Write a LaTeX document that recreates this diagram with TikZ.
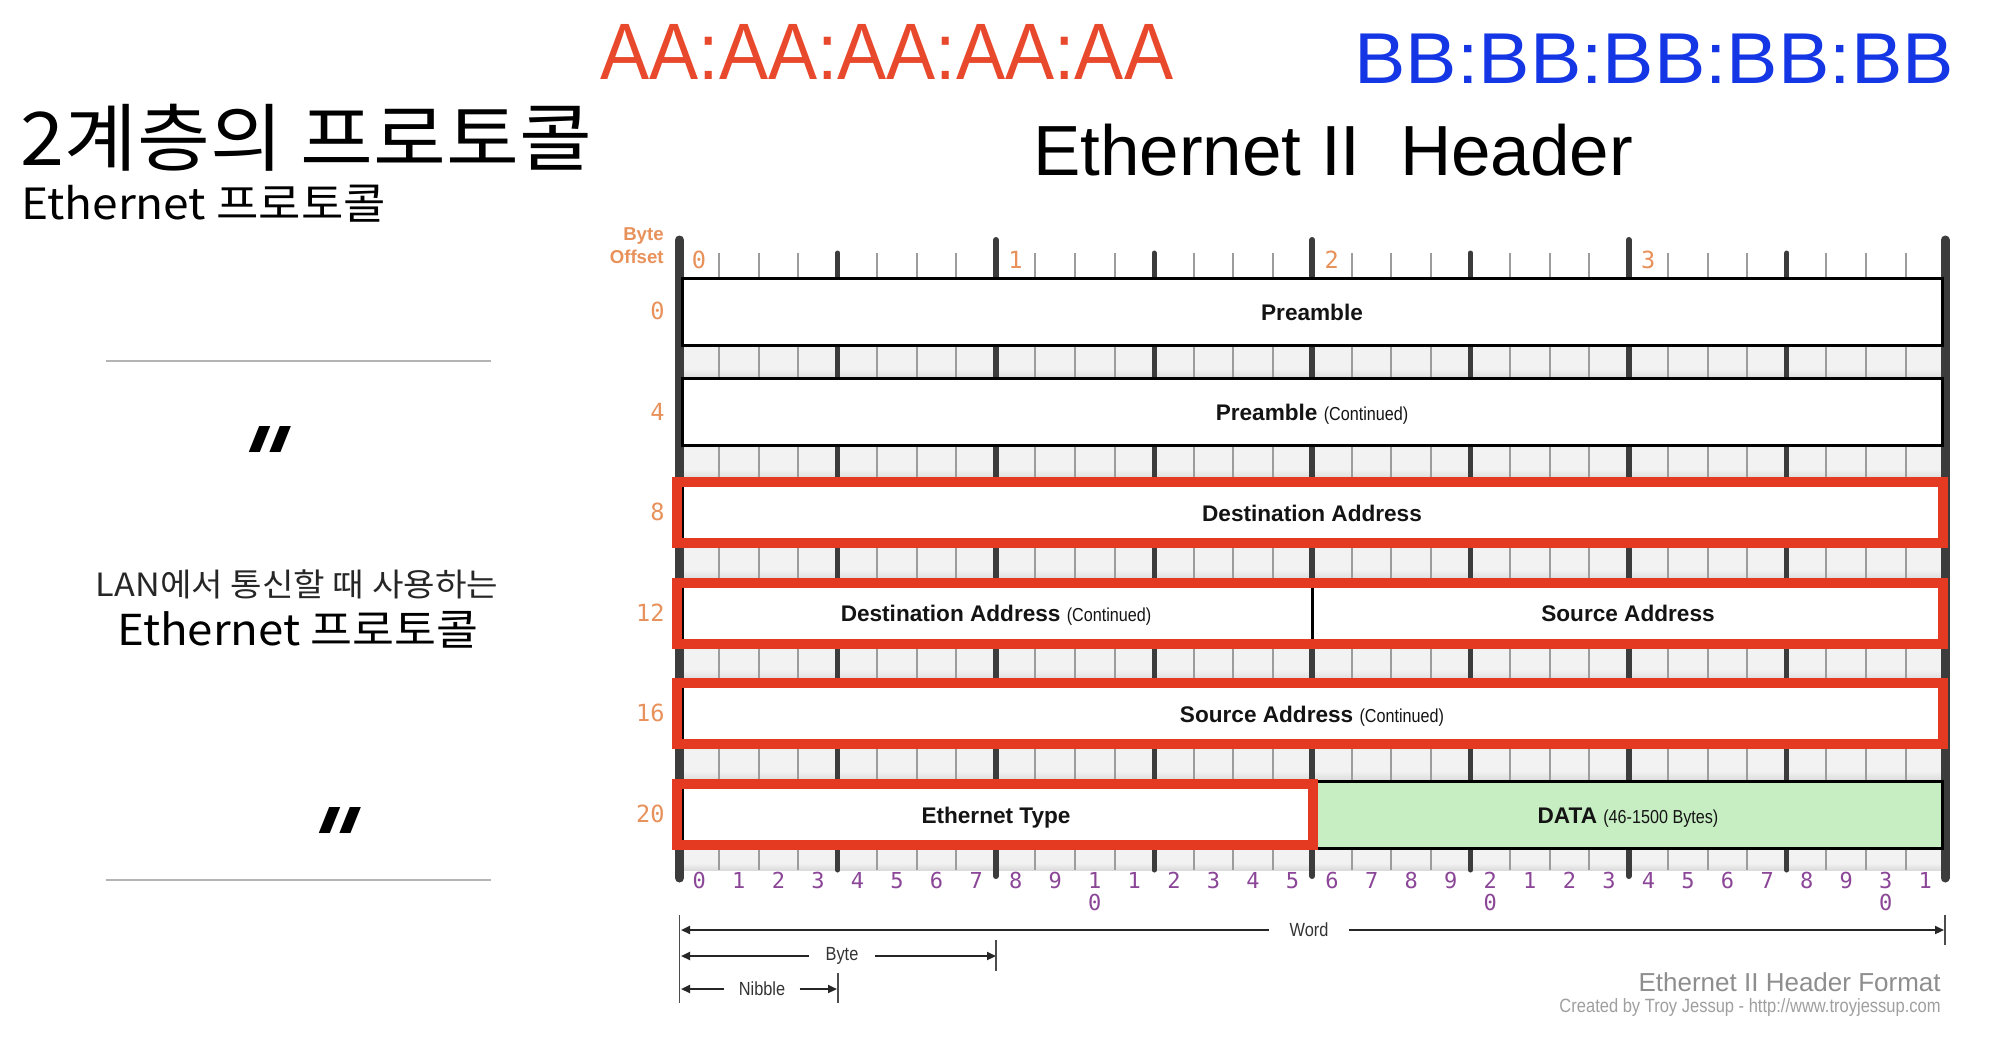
\documentclass[tikz,border=0pt]{standalone}
\usepackage{fontspec}
\setmainfont{Liberation Sans}
\newfontfamily\hangul[FakeStretch=1.07]{Noto Sans CJK KR}
\newfontfamily\hdrmono{DejaVu Sans Mono}
\newfontfamily\narrowsans[FakeStretch=0.86]{Liberation Sans}
\newfontfamily\aafont[FakeStretch=0.92]{Liberation Sans}
\newfontfamily\bbfont[FakeStretch=1.07]{Liberation Sans}
\newfontfamily\quotefont[FakeSlant=0.4]{DejaVu Sans Bold}
\usetikzlibrary{arrows.meta}

\definecolor{offorange}{HTML}{E8915A}
\definecolor{bitpurple}{HTML}{8B4697}
\definecolor{hlred}{HTML}{E43A22}
\definecolor{macred}{HTML}{E8482C}
\definecolor{macblue}{HTML}{1436E4}
\definecolor{datagreen}{HTML}{C7EEC2}
\definecolor{bardark}{HTML}{3C3C3C}
\definecolor{tickgray}{HTML}{9C9C9C}
\definecolor{bandtop}{HTML}{CDCDCD}
\definecolor{bandmid}{HTML}{F2F2F2}
\definecolor{bandbot}{HTML}{B4B4B4}
\definecolor{rulegray}{HTML}{B4B4B4}
\definecolor{footgray}{HTML}{8E8E8E}

\pgfdeclareverticalshading{bandshade}{100bp}{color(0bp)=(bandbot); color(40bp)=(bandmid); color(70bp)=(bandmid); color(100bp)=(bandtop)}

\tikzset{
  cellbox/.style={draw=black, line width=1.5pt, fill=white},
  databox/.style={draw=black, line width=1.5pt, fill=datagreen},
  hlbox/.style={draw=hlred, line width=5pt},
  minortick/.style={draw=tickgray, line width=1pt},
  nibtick/.style={draw=bardark, line width=2.5pt, line cap=round},
  bytetick/.style={draw=bardark, line width=3pt, line cap=round},
  sidebar/.style={draw=bardark, line width=4.5pt, line cap=round},
  lbl/.style={inner sep=0pt, anchor=base, text=black!92},
  cellfont/.style={font=\fontsize{11.3}{13}\selectfont\bfseries},
  offlbl/.style={inner sep=0pt, anchor=base east, text=offorange, font=\hdrmono\fontsize{11.8}{13}\selectfont},
  bytelbl/.style={inner sep=0pt, anchor=base west, text=offorange, font=\hdrmono\fontsize{11.8}{13}\selectfont},
  bitlbl/.style={inner sep=0pt, anchor=base, text=bitpurple, font=\hdrmono\fontsize{11}{12}\selectfont},
  dimlbl/.style={inner ysep=0pt, text=black!80, font=\narrowsans\fontsize{9.5}{11}\selectfont},
  dimline/.style={draw=black!85, line width=1pt, -{Triangle[length=4.5pt,width=4pt]}},
  boundline/.style={draw=black!70, line width=0.8pt},
  quotemark/.style={inner sep=0pt, anchor=base, font=\quotefont\fontsize{48}{48}\selectfont},
}
\newcommand\contd[1]{{\narrowsans\mdseries\fontsize{9.4}{11}\selectfont #1}}

\begin{document}
\begin{tikzpicture}[x=0.5pt,y=-0.5pt]
\fill[white] (0,0) rectangle (2000,1060);
\useasboundingbox (0,0) rectangle (2000,1060);

% ---------- left panel ----------
\node[inner sep=0pt, anchor=base west, font=\hangul\fontsize{37}{40}\selectfont] (ltitle) at (20,165) {2계층의 프로토콜};
\node[inner sep=0pt, anchor=base west, font=\hangul\fontsize{21.5}{26}\selectfont] (lsub) at (21,219) {Ethernet 프로토콜};
\draw[rulegray, line width=1pt] (106,361) -- (491,361);
\draw[rulegray, line width=1pt] (106,880) -- (491,880);
\node[quotemark] (qopen) at (248,496) {\symbol{"22}};
\node[quotemark] (qclose) at (318,877) {\symbol{"22}};
\node[inner sep=0pt, anchor=base, text=black!85, font=\hangul\fontsize{16}{20}\selectfont] (lanline) at (297,596) {LAN에서 통신할 때 사용하는};
\node[inner sep=0pt, anchor=base, font=\hangul\fontsize{21.3}{26}\selectfont] (ethline) at (298,645) {Ethernet 프로토콜};

% ---------- MAC addresses and title ----------
\node[inner sep=0pt, anchor=base west, text=macred, font=\aafont\fontsize{40}{44}\selectfont] (srcmac) at (600,79) {AA:AA:AA:AA:AA};
\node[inner sep=0pt, anchor=base west, text=macblue, font=\bbfont\fontsize{36}{40}\selectfont] (dstmac) at (1354,83) {BB:BB:BB:BB:BB};
\node[inner sep=0pt, anchor=base, font=\fontsize{35.5}{40}\selectfont] (title) at (1333,175) {Ethernet II\ \ Header};

% ---------- shaded gaps between the rows ----------
\foreach \ya/\yb in {345/378.6, 445.6/479.2, 546.2/579.8, 646.8/680.4, 747.4/781, 848/870}
  \shade[shading=bandshade] (679.5,\ya) rectangle (1945,\yb);

% ---------- bit ticks ----------
\foreach \b in {1,...,31}{
  \pgfmathsetmacro{\tx}{679.5+\b*39.55}
  \pgfmathtruncatemacro{\tm}{mod(\b,8)}
  \pgfmathtruncatemacro{\tn}{mod(\b,4)}
  \ifnum\tm=0
    \draw[bytetick] (\tx,240) -- (\tx,876);
  \else\ifnum\tn=0
    \draw[nibtick] (\tx,253) -- (\tx,870);
  \else
    \draw[minortick] (\tx,253) -- (\tx,870);
  \fi\fi
}
\draw[sidebar] (679.5,240) -- (679.5,878);
\draw[sidebar] (1945,240) -- (1945,878);

% ---------- header fields ----------
\draw[cellbox] (682.5,278) rectangle (1942,345);
\draw[cellbox] (682.5,378.6) rectangle (1942,445.6);
\draw[cellbox] (682.5,479.2) rectangle (1942,546.2);
\draw[cellbox] (682.5,579.8) rectangle (1312.3,646.8);
\draw[cellbox] (1312.3,579.8) rectangle (1942,646.8);
\draw[cellbox] (682.5,680.4) rectangle (1942,747.4);
\draw[cellbox] (682.5,781) rectangle (1312.3,848);
\draw[databox] (1312.3,781) rectangle (1942,848);

\node[lbl, cellfont] (preamble) at (1312,320) {Preamble};
\node[lbl, cellfont] (preamblec) at (1312,420.6) {Preamble \contd{(Continued)}};
\node[lbl, cellfont] (dstaddr) at (1312,521.2) {Destination Address};
\node[lbl, cellfont] (dstaddrc) at (996,621.8) {Destination Address \contd{(Continued)}};
\node[lbl, cellfont] (srcaddr) at (1628,621.8) {Source Address};
\node[lbl, cellfont] (srcaddrc) at (1312,722.4) {Source Address \contd{(Continued)}};
\node[lbl, cellfont] (ethtype) at (996,823) {Ethernet Type};
\node[lbl, cellfont] (payload) at (1628,823) {DATA \contd{(46-1500 Bytes)}};

% ---------- highlighted address and type fields ----------
\draw[hlbox] (677,482.2) rectangle (1943,543.2);
\draw[hlbox] (677,582.8) rectangle (1943,643.8);
\draw[hlbox] (677,683.4) rectangle (1943,744.4);
\draw[hlbox] (677,784) rectangle (1313,845);

% ---------- offsets and bit numbers ----------
\node[inner sep=0pt, anchor=base east, text=offorange, font=\fontsize{9.3}{11}\selectfont\bfseries] (bolbla) at (664,240) {Byte};
\node[inner sep=0pt, anchor=base east, text=offorange, font=\fontsize{9.3}{11}\selectfont\bfseries] (bolblb) at (664,263) {Offset};
\foreach \o [count=\i from 0] in {0,4,8,12,16,20}
  \node[offlbl] (off\o) at (665,{278+100.6*\i+41.5}) {\o};
\foreach \k in {0,...,3}
  \node[bytelbl] (byte\k) at ({679.5+\k*316.4+12},268) {\k};
\foreach \d [count=\b from 0] in {0,1,2,3,4,5,6,7,8,9,1,1,2,3,4,5,6,7,8,9,2,1,2,3,4,5,6,7,8,9,3,1}
  \node[bitlbl] (bit\b) at ({679.5+(\b+0.5)*39.55},888) {\d};
\foreach \b in {10,20,30}
  \node[bitlbl] (bitz\b) at ({679.5+(\b+0.5)*39.55},910) {0};

% ---------- word / byte / nibble spans ----------
\coordinate (wordL) at (681,930);
\coordinate (wordR) at (1944,930);
\coordinate (byteL) at (681,956);
\coordinate (byteR) at (996,956);
\coordinate (nibL) at (681,989);
\coordinate (nibR) at (837,989);
\node[dimlbl, inner xsep=10pt] (wordlbl) at (1309,930) {Word};
\node[dimlbl, inner xsep=8pt] (bytelbl) at (842,956) {Byte};
\node[dimlbl, inner xsep=7pt] (niblbl) at (762,989) {Nibble};
\draw[dimline] (wordlbl.west) -- (wordL);
\draw[dimline] (wordlbl.east) -- (wordR);
\draw[dimline] (bytelbl.west) -- (byteL);
\draw[dimline] (bytelbl.east) -- (byteR);
\draw[dimline] (niblbl.west) -- (nibL);
\draw[dimline] (niblbl.east) -- (nibR);
\draw[boundline] (679.5,915) -- (679.5,1003);
\draw[boundline] (1945,915) -- (1945,945);
\draw[boundline] (996,940) -- (996,971);
\draw[boundline] (838,973) -- (838,1003);

% ---------- credits ----------
\node[inner sep=0pt, anchor=base east, text=footgray, font=\fontsize{13}{15}\selectfont] (fmtname) at (1941,991) {Ethernet II Header Format};
\node[inner sep=0pt, anchor=base east, text=footgray!85, font=\narrowsans\fontsize{9.6}{11}\selectfont] (credit) at (1941,1012) {Created by Troy Jessup - http://www.troyjessup.com};
\end{tikzpicture}
\end{document}
